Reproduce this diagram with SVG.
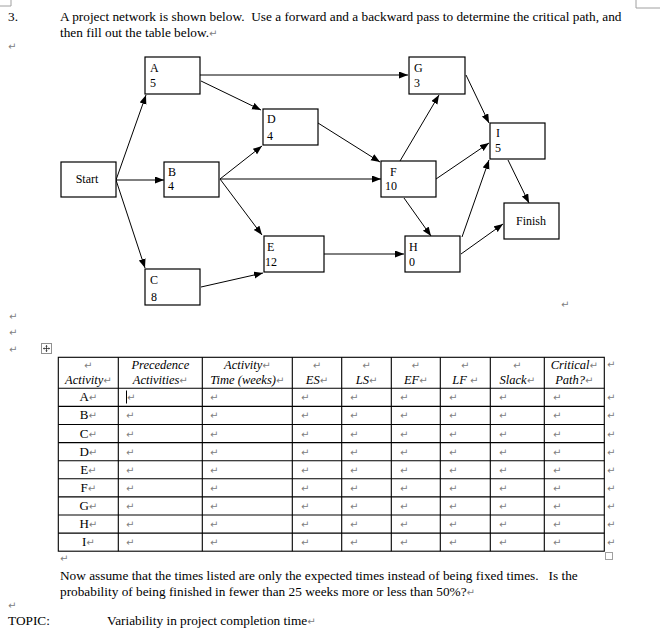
<svg xmlns="http://www.w3.org/2000/svg" width="668" height="632" viewBox="0 0 668 632" xml:space="preserve">
<style>
text { font-family: "Liberation Serif", "Times New Roman", serif; fill: #000; white-space: pre; }
.doc { font-size: 13.3px; }
.lbl { font-size: 12px; }
.hd { font-size: 12.5px; font-style: italic; text-anchor: middle; }
.rw { font-size: 13px; text-anchor: middle; }
.pm { font-family: "DejaVu Sans", sans-serif; font-size: 10px; fill: #808080; font-style: normal; }
.box { fill: #fff; stroke: #000; stroke-width: 1.2; }
.edge { stroke: #000; stroke-width: 1; fill: none; marker-end: url(#ah); }
.grid { stroke: #000; stroke-width: 1.1; fill: none; }
.mark { stroke: #a0a0a0; stroke-width: 1; fill: none; }
</style>
<defs>
<marker id="ah" markerUnits="userSpaceOnUse" markerWidth="10" markerHeight="8" refX="9" refY="3.5" orient="auto">
<path d="M0,0 L9,3.5 L0,7 z" fill="#000"/>
</marker>
</defs>
<rect width="668" height="632" fill="#fff"/>

<g id="page-marks">
<path class="mark" d="M0,6 H11 V0"/>
<path class="mark" d="M636,0 V8 H660"/>
</g>

<g id="question">
<text class="doc" x="8" y="21">3.</text>
<text class="doc" x="60" y="21">A project network is shown below.  Use a forward and a backward pass to determine the critical path, and</text>
<text class="doc" x="60" y="37">then fill out the table below.<tspan class="pm">↵</tspan></text>
<text class="pm" x="8" y="50">↵</text>
</g>

<g id="connectors">
<path class="edge" d="M116,180 L146,95"/>
<path class="edge" d="M116,180 L164,180"/>
<path class="edge" d="M116,180 L145,268"/>
<path class="edge" d="M201,81 L261,110"/>
<path class="edge" d="M200,75 L408,75"/>
<path class="edge" d="M220,179 L262,146"/>
<path class="edge" d="M220,179 L381,179"/>
<path class="edge" d="M220,179 L262,235"/>
<path class="edge" d="M201,287 L263,273"/>
<path class="edge" d="M318,123 L380,162"/>
<path class="edge" d="M324,254 L404,254"/>
<path class="edge" d="M400,161 L439,95"/>
<path class="edge" d="M436,179 L489,143"/>
<path class="edge" d="M404,198 L431,236"/>
<path class="edge" d="M466,75 L489,123"/>
<path class="edge" d="M462,237 L489,160"/>
<path class="edge" d="M461,254 L503,224"/>
<path class="edge" d="M508,160 L529,203"/>
</g>

<g id="node-start"><rect class="box" x="61" y="162" width="55" height="35"/><text class="lbl" x="87" y="183" text-anchor="middle">Start</text></g>
<g id="node-a"><rect class="box" x="145" y="57" width="55" height="37"/><text class="lbl" x="150" y="72">A</text><text class="lbl" x="150" y="87">5</text></g>
<g id="node-b"><rect class="box" x="164" y="162" width="55" height="35"/><text class="lbl" x="168" y="176">B</text><text class="lbl" x="168" y="190">4</text></g>
<g id="node-c"><rect class="box" x="145" y="269" width="55" height="36"/><text class="lbl" x="150" y="284">C</text><text class="lbl" x="151" y="301">8</text></g>
<g id="node-d"><rect class="box" x="263" y="109" width="55" height="36"/><text class="lbl" x="267" y="123">D</text><text class="lbl" x="267" y="140">4</text></g>
<g id="node-e"><rect class="box" x="264" y="236" width="60" height="36"/><text class="lbl" x="267" y="251">E</text><text class="lbl" x="265" y="266">12</text></g>
<g id="node-f"><rect class="box" x="381" y="161" width="55" height="36"/><text class="lbl" x="390" y="176">F</text><text class="lbl" x="385" y="190">10</text></g>
<g id="node-g"><rect class="box" x="409" y="57" width="56" height="37"/><text class="lbl" x="414" y="72">G</text><text class="lbl" x="414" y="87">3</text></g>
<g id="node-h"><rect class="box" x="405" y="236" width="55" height="36"/><text class="lbl" x="409" y="251">H</text><text class="lbl" x="409" y="266">0</text></g>
<g id="node-i"><rect class="box" x="490" y="123" width="55" height="36"/><text class="lbl" x="496" y="137">I</text><text class="lbl" x="495" y="152">5</text></g>
<g id="node-finish"><rect class="box" x="504" y="203" width="55" height="36"/><text class="lbl" x="531" y="225" text-anchor="middle">Finish</text></g>

<g id="para-marks">
<text class="pm" x="561" y="308">↵</text>
<text class="pm" x="9" y="320">↵</text>
<text class="pm" x="9" y="336">↵</text>
<text class="pm" x="9" y="353">↵</text>
</g>

<g id="table-handle">
<rect x="41.5" y="343.5" width="10" height="10" fill="#fff" stroke="#909090"/>
<path d="M46.5,345.5 V351.5 M43.5,348.5 H49.5" stroke="#303030" stroke-width="0.8"/>
<path d="M46.5,345 L45.3,346.4 H47.7 z M46.5,352 L45.3,350.6 H47.7 z M43,348.5 L44.4,347.3 V349.7 z M50,348.5 L48.6,347.3 V349.7 z" fill="#303030"/>
</g>

<g id="table">
<rect class="grid" x="58.3" y="357.3" width="546" height="193.9"/>
<path class="grid" d="M118.3,357.3 V551.2 M202.3,357.3 V551.2 M292.3,357.3 V551.2 M341.7,357.3 V551.2 M391.3,357.3 V551.2 M440.3,357.3 V551.2 M490.3,357.3 V551.2 M544.3,357.3 V551.2"/>
<path class="grid" d="M58.3,388.3 H604.3 M58.3,406.4 H604.3 M58.3,424.5 H604.3 M58.3,442.6 H604.3 M58.3,460.7 H604.3 M58.3,478.8 H604.3 M58.3,496.9 H604.3 M58.3,515 H604.3 M58.3,533.1 H604.3"/>

<text class="hd" x="88.3" y="369"><tspan class="pm">↵</tspan></text>
<text class="hd" x="88.3" y="384">Activity<tspan class="pm">↵</tspan></text>
<text class="hd" x="160.3" y="369">Precedence</text>
<text class="hd" x="160.3" y="384">Activities<tspan class="pm">↵</tspan></text>
<text class="hd" x="247.3" y="369">Activity<tspan class="pm">↵</tspan></text>
<text class="hd" x="247.3" y="384">Time (weeks)<tspan class="pm">↵</tspan></text>
<text class="hd" x="317" y="369"><tspan class="pm">↵</tspan></text>
<text class="hd" x="317" y="384">ES<tspan class="pm">↵</tspan></text>
<text class="hd" x="366.5" y="369"><tspan class="pm">↵</tspan></text>
<text class="hd" x="366.5" y="384">LS<tspan class="pm">↵</tspan></text>
<text class="hd" x="415.8" y="369"><tspan class="pm">↵</tspan></text>
<text class="hd" x="415.8" y="384">EF<tspan class="pm">↵</tspan></text>
<text class="hd" x="465.3" y="369"><tspan class="pm">↵</tspan></text>
<text class="hd" x="465.3" y="384">LF <tspan class="pm">↵</tspan></text>
<text class="hd" x="517.3" y="369"><tspan class="pm">↵</tspan></text>
<text class="hd" x="517.3" y="384">Slack<tspan class="pm">↵</tspan></text>
<text class="hd" x="574.3" y="369">Critical<tspan class="pm">↵</tspan></text>
<text class="hd" x="574.3" y="384">Path?<tspan class="pm">↵</tspan></text>
<text class="pm" x="607" y="368">↵</text>

<g id="row-a"><text class="rw" x="88.3" y="401.3">A<tspan class="pm">↵</tspan></text><line x1="126.5" y1="390.5" x2="126.5" y2="403.5" stroke="#000" stroke-width="1"/><text class="pm" x="127" y="401.3">↵</text><text class="pm" x="210" y="401.3">↵</text><text class="pm" x="301" y="401.3">↵</text><text class="pm" x="350" y="401.3">↵</text><text class="pm" x="400" y="401.3">↵</text><text class="pm" x="449" y="401.3">↵</text><text class="pm" x="499" y="401.3">↵</text><text class="pm" x="553" y="401.3">↵</text><text class="pm" x="607" y="401.3">↵</text></g>
<g id="row-b"><text class="rw" x="88.3" y="419.4">B<tspan class="pm">↵</tspan></text><text class="pm" x="126" y="419.4">↵</text><text class="pm" x="210" y="419.4">↵</text><text class="pm" x="301" y="419.4">↵</text><text class="pm" x="350" y="419.4">↵</text><text class="pm" x="400" y="419.4">↵</text><text class="pm" x="449" y="419.4">↵</text><text class="pm" x="499" y="419.4">↵</text><text class="pm" x="553" y="419.4">↵</text><text class="pm" x="607" y="419.4">↵</text></g>
<g id="row-c"><text class="rw" x="88.3" y="437.5">C<tspan class="pm">↵</tspan></text><text class="pm" x="126" y="437.5">↵</text><text class="pm" x="210" y="437.5">↵</text><text class="pm" x="301" y="437.5">↵</text><text class="pm" x="350" y="437.5">↵</text><text class="pm" x="400" y="437.5">↵</text><text class="pm" x="449" y="437.5">↵</text><text class="pm" x="499" y="437.5">↵</text><text class="pm" x="553" y="437.5">↵</text><text class="pm" x="607" y="437.5">↵</text></g>
<g id="row-d"><text class="rw" x="88.3" y="455.6">D<tspan class="pm">↵</tspan></text><text class="pm" x="126" y="455.6">↵</text><text class="pm" x="210" y="455.6">↵</text><text class="pm" x="301" y="455.6">↵</text><text class="pm" x="350" y="455.6">↵</text><text class="pm" x="400" y="455.6">↵</text><text class="pm" x="449" y="455.6">↵</text><text class="pm" x="499" y="455.6">↵</text><text class="pm" x="553" y="455.6">↵</text><text class="pm" x="607" y="455.6">↵</text></g>
<g id="row-e"><text class="rw" x="88.3" y="473.7">E<tspan class="pm">↵</tspan></text><text class="pm" x="126" y="473.7">↵</text><text class="pm" x="210" y="473.7">↵</text><text class="pm" x="301" y="473.7">↵</text><text class="pm" x="350" y="473.7">↵</text><text class="pm" x="400" y="473.7">↵</text><text class="pm" x="449" y="473.7">↵</text><text class="pm" x="499" y="473.7">↵</text><text class="pm" x="553" y="473.7">↵</text><text class="pm" x="607" y="473.7">↵</text></g>
<g id="row-f"><text class="rw" x="88.3" y="491.8">F<tspan class="pm">↵</tspan></text><text class="pm" x="126" y="491.8">↵</text><text class="pm" x="210" y="491.8">↵</text><text class="pm" x="301" y="491.8">↵</text><text class="pm" x="350" y="491.8">↵</text><text class="pm" x="400" y="491.8">↵</text><text class="pm" x="449" y="491.8">↵</text><text class="pm" x="499" y="491.8">↵</text><text class="pm" x="553" y="491.8">↵</text><text class="pm" x="607" y="491.8">↵</text></g>
<g id="row-g"><text class="rw" x="88.3" y="509.9">G<tspan class="pm">↵</tspan></text><text class="pm" x="126" y="509.9">↵</text><text class="pm" x="210" y="509.9">↵</text><text class="pm" x="301" y="509.9">↵</text><text class="pm" x="350" y="509.9">↵</text><text class="pm" x="400" y="509.9">↵</text><text class="pm" x="449" y="509.9">↵</text><text class="pm" x="499" y="509.9">↵</text><text class="pm" x="553" y="509.9">↵</text><text class="pm" x="607" y="509.9">↵</text></g>
<g id="row-h"><text class="rw" x="88.3" y="528">H<tspan class="pm">↵</tspan></text><text class="pm" x="126" y="528">↵</text><text class="pm" x="210" y="528">↵</text><text class="pm" x="301" y="528">↵</text><text class="pm" x="350" y="528">↵</text><text class="pm" x="400" y="528">↵</text><text class="pm" x="449" y="528">↵</text><text class="pm" x="499" y="528">↵</text><text class="pm" x="553" y="528">↵</text><text class="pm" x="607" y="528">↵</text></g>
<g id="row-i"><text class="rw" x="88.3" y="546.1">I<tspan class="pm">↵</tspan></text><text class="pm" x="126" y="546.1">↵</text><text class="pm" x="210" y="546.1">↵</text><text class="pm" x="301" y="546.1">↵</text><text class="pm" x="350" y="546.1">↵</text><text class="pm" x="400" y="546.1">↵</text><text class="pm" x="449" y="546.1">↵</text><text class="pm" x="499" y="546.1">↵</text><text class="pm" x="553" y="546.1">↵</text><text class="pm" x="607" y="546.1">↵</text></g>
<rect x="605.5" y="552.5" width="7" height="7" fill="#fff" stroke="#a0a0a0"/>
</g>

<g id="followup">
<text class="pm" x="60" y="562">↵</text>
<text class="doc" x="60" y="580">Now assume that the times listed are only the expected times instead of being fixed times.   Is the</text>
<text class="doc" x="60" y="596">probability of being finished in fewer than 25 weeks more or less than 50%?<tspan class="pm">↵</tspan></text>
<text class="pm" x="8" y="609">↵</text>
<text class="doc" x="8" y="625">TOPIC:</text>
<text class="doc" x="107" y="625">Variability in project completion time<tspan class="pm">↵</tspan></text>
</g>
</svg>
